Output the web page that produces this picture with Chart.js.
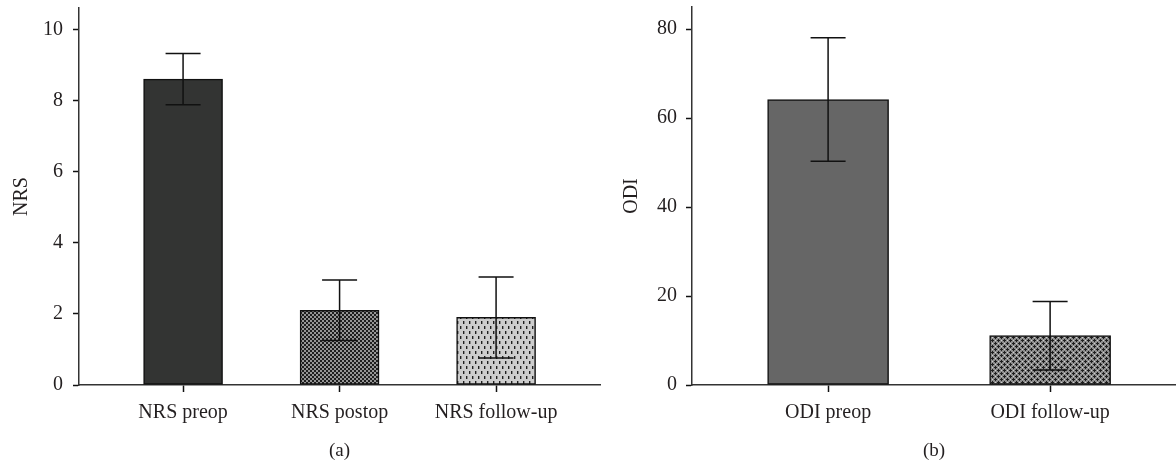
<!DOCTYPE html>
<html>
<head>
<meta charset="utf-8">
<script src="https://cdn.jsdelivr.net/npm/chart.js@4.4.1/dist/chart.umd.min.js"></script>
<style>
  body { margin: 0; background: #fff; }
  #left { position: absolute; left: 0; top: 0; }
  #right { position: absolute; left: 610px; top: 0; }
</style>
</head>
<body>
<canvas id="left" width="620" height="462"></canvas>
<canvas id="right" width="566" height="462"></canvas>
<script>
// NRS panel (a)
const nrsLabels = ['NRS preop', 'NRS postop', 'NRS follow-up'];
const nrsMeans = [8.6, 2.1, 1.9];
const nrsSd = [0.72, 0.85, 1.14];
const nrsTicks = [0, 2, 4, 6, 8, 10];

// ODI panel (b)
const odiLabels = ['ODI preop', 'ODI follow-up'];
const odiMeans = [64.2, 11.1];
const odiSd = [13.9, 7.7];
const odiTicks = [0, 20, 40, 60, 80];

const serif = "'Liberation Serif', 'DejaVu Serif', serif";
const ink = '#231f20';

function makePattern(w, h, draw) {
    const c = document.createElement('canvas');
    c.width = w; c.height = h;
    const g = c.getContext('2d');
    draw(g);
    return document.getElementById('left').getContext('2d').createPattern(c, 'repeat');
}

// small checker squares
const checker = makePattern(4, 4, g => {
    g.fillStyle = '#959595';
    g.fillRect(0, 0, 4, 4);
    g.fillStyle = '#1e1e1e';
    g.fillRect(0, 0, 2, 2);
    g.fillRect(2, 2, 2, 2);
});
// light grey with short vertical dashes
const dashes = makePattern(6, 10, g => {
    g.fillStyle = '#cdcdcd';
    g.fillRect(0, 0, 6, 10);
    g.fillStyle = '#1e1e1e';
    g.fillRect(1, 1, 1, 3);
    g.fillRect(4, 6, 1, 3);
    g.fillStyle = '#8a8a8a';
    g.fillRect(2, 1, 1, 3);
    g.fillRect(5, 6, 1, 3);
});
// grey with small crosses
const crosses = makePattern(6, 6, g => {
    g.fillStyle = '#8c8c8c';
    g.fillRect(0, 0, 6, 6);
    g.fillStyle = '#1e1e1e';
    g.fillRect(1, 0, 1, 3);
    g.fillRect(0, 1, 3, 1);
    g.fillRect(4, 3, 1, 3);
    g.fillRect(3, 4, 3, 1);
    g.fillStyle = '#d0d0d0';
    g.fillRect(4, 1, 1, 1);
    g.fillRect(1, 4, 1, 1);
});

const errorBars = {
    id: 'errorBars',
    afterDatasetsDraw(chart, args, opts) {
        const ctx = chart.ctx;
        const xs = chart.scales.x, ys = chart.scales.y;
        ctx.save();
        ctx.strokeStyle = '#111';
        ctx.lineWidth = 1.5;
        opts.means.forEach((m, i) => {
            const x = xs.getPixelForValue(i);
            const yHi = ys.getPixelForValue(m + opts.sd[i]);
            const yLo = ys.getPixelForValue(m - opts.sd[i]);
            const half = opts.cap / 2;
            ctx.beginPath();
            ctx.moveTo(x, yHi); ctx.lineTo(x, yLo);
            ctx.moveTo(x - half, yHi); ctx.lineTo(x + half, yHi);
            ctx.moveTo(x - half, yLo); ctx.lineTo(x + half, yLo);
            ctx.stroke();
        });
        ctx.restore();
    }
};

function panel(id, cfg) {
    const points = cfg.means.map((v, i) => ({ x: i, y: v }));
    return new Chart(document.getElementById(id), {
        type: 'bar',
        data: {
            datasets: [{
                data: points,
                backgroundColor: cfg.fills,
                borderColor: '#111',
                borderWidth: 1.5,
                borderSkipped: false,
                barThickness: cfg.barWidth
            }]
        },
        plugins: [errorBars],
        options: {
            responsive: false,
            animation: false,
            devicePixelRatio: 1,
            layout: { padding: { top: cfg.top, right: cfg.right, left: 0, bottom: 0 } },
            plugins: {
                legend: { display: false },
                tooltip: { enabled: false },
                errorBars: { means: cfg.means, sd: cfg.sd, cap: 35 }
            },
            scales: {
                x: {
                    type: 'linear',
                    offset: false,
                    min: cfg.xMin,
                    max: cfg.xMax,
                    afterBuildTicks: s => { s.ticks = cfg.labels.map((l, i) => ({ value: i })); },
                    afterFit: s => { s.height = 77; },
                    ticks: {
                        callback: v => cfg.labels[v],
                        color: ink,
                        font: { family: serif, size: 20 },
                        padding: 9,
                        maxRotation: 0,
                        autoSkip: false
                    },
                    grid: { offset: false, drawOnChartArea: false, drawTicks: true, tickLength: 7, tickColor: '#111', tickWidth: 1.5 },
                    border: { display: true, color: '#333', width: 1.5 },
                    title: { display: true, text: cfg.caption, color: ink, font: { family: serif, size: 19 }, padding: { top: 0, bottom: 0 } }
                },
                y: {
                    min: 0,
                    max: cfg.yMax,
                    afterBuildTicks: s => { s.ticks = cfg.yTicks.map(v => ({ value: v })); },
                    afterFit: s => {
                        s.width = cfg.axisWidth;
                        s.paddingTop = 0;
                        s.paddingBottom = 0;
                    },
                    ticks: { color: ink, font: { family: serif, size: 20 }, padding: cfg.tickPad },
                    grid: { drawOnChartArea: false, drawTicks: true, tickLength: 6, tickColor: '#111', tickWidth: 1.5 },
                    border: { display: true, color: '#333', width: 1.5 },
                    title: { display: true, text: cfg.title, color: ink, font: { family: serif, size: 20 }, padding: { top: 10, bottom: 0 } }
                }
            }
        }
    });
}

panel('left', {
    labels: nrsLabels, means: nrsMeans, sd: nrsSd, yTicks: nrsTicks,
    fills: ['#333433', checker, dashes],
    title: 'NRS', caption: '(a)',
    yMax: 10.6, xMin: -0.665, xMax: 2.664,
    barWidth: 79, axisWidth: 79, tickPad: 10, top: 8, right: 20
});

panel('right', {
    labels: odiLabels, means: odiMeans, sd: odiSd, yTicks: odiTicks,
    fills: ['#666666', crosses],
    title: 'ODI', caption: '(b)',
    yMax: 85, xMin: -0.613, xMax: 1.567,
    barWidth: 121, axisWidth: 82, tickPad: 9, top: 7, right: 0
});
</script>
</body>
</html>
